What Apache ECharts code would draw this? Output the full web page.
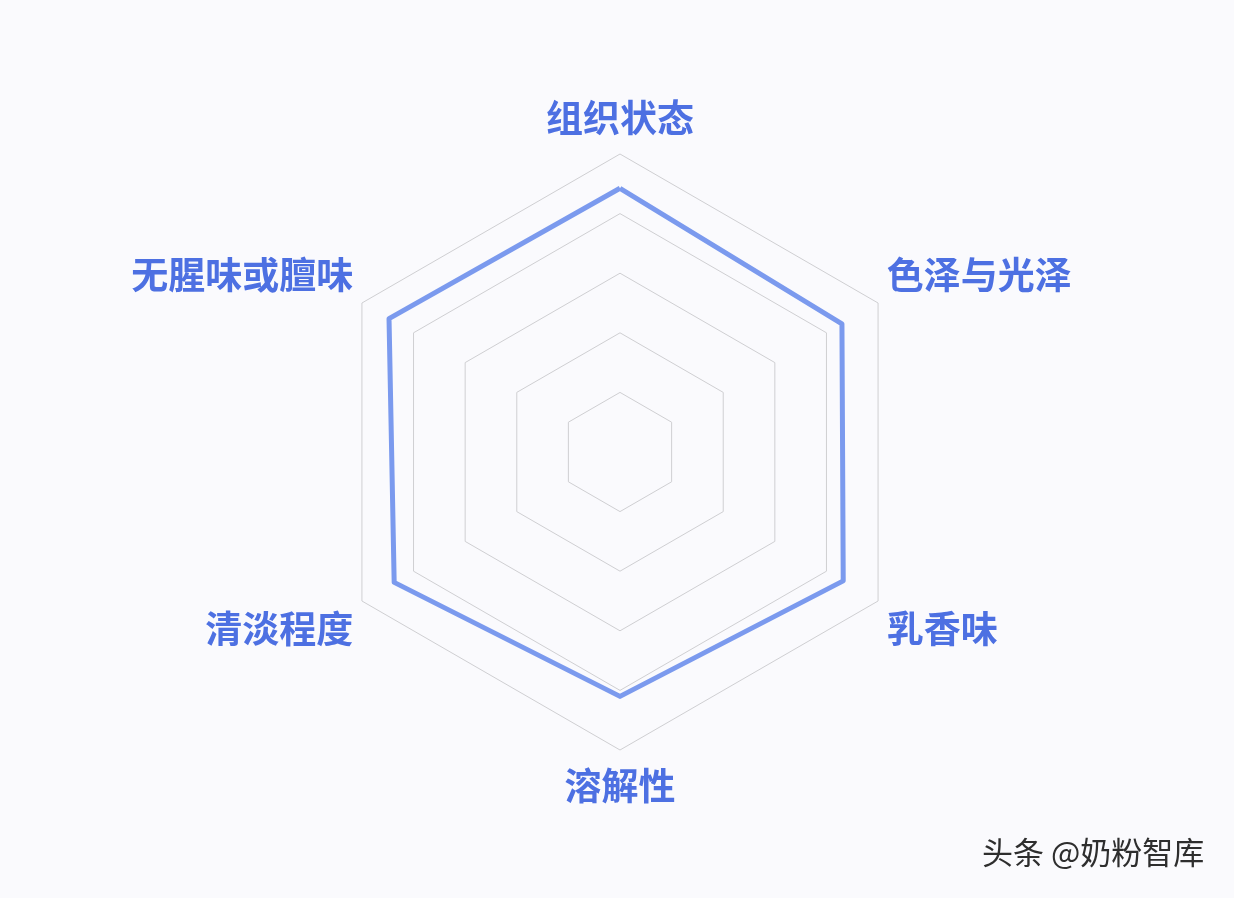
<!DOCTYPE html>
<html>
<head>
<meta charset="utf-8">
<script src="https://cdn.jsdelivr.net/npm/echarts@6/dist/echarts.min.js"></script>
<style>
html,body{margin:0;padding:0;background:#fafafd;}
#c{width:1234px;height:898px;}
</style>
</head>
<body>
<div id="c"></div>
<script>
// Indicators listed counterclockwise from the top (ECharts radar order)
const indicatorNames = ['组织状态', '无腥味或膻味', '清淡程度', '溶解性', '乳香味', '色泽与光泽'];
const indicatorMax = [100, 100, 100, 100, 100, 100];
const scores = [88.5, 89.5, 87.5, 82, 86.5, 86];
const watermark = '头条 @奶粉智库';

// label placement (which side of the polygon the name sits on)
const labelSide = ['top', 'upper', 'lower', 'bottom', 'lower', 'upper'];

const chart = echarts.init(document.getElementById('c'));
chart.setOption({
  backgroundColor: '#fafafd',
  radar: {
    center: [620, 452],
    radius: 298,
    startAngle: 90,
    splitNumber: 5,
    shape: 'polygon',
    nameGap: 10,
    indicator: indicatorNames.map((n, i) => ({ name: n, max: indicatorMax[i], min: 0 })),
    axisName: {
      formatter: function (name) {
        const side = labelSide[indicatorNames.indexOf(name)];
        if (side === 'top') return '{n|' + name + '}\n{g6| }';
        if (side === 'bottom') return '{g6| }\n{n|' + name + '}';
        if (side === 'upper') return '{n|' + name + '}\n{g46| }';
        return '{g46| }\n{n|' + name + '}';
      },
      rich: {
        n: {
          color: '#4d70e2',
          fontSize: 37,
          lineHeight: 40,
          fontWeight: 'bold',
          fontFamily: 'Noto Sans CJK SC'
        },
        g6: { fontSize: 1, lineHeight: 6 },
        g46: { fontSize: 1, lineHeight: 46 }
      }
    },
    axisLine: { show: false },
    axisTick: { show: false },
    axisLabel: { show: false },
    splitArea: { show: false },
    splitLine: { lineStyle: { color: '#cfcfd2', width: 1 } }
  },
  series: [{
    type: 'radar',
    symbol: 'none',
    silent: true,
    lineStyle: { color: '#7b9aee', width: 5 },
    areaStyle: { opacity: 0 },
    data: [{ value: scores }]
  }],
  graphic: [{
    type: 'text',
    left: 982,
    top: 837,
    style: {
      text: watermark,
      fill: '#2e2e2e',
      font: '31px "Noto Sans CJK SC"',
      shadowColor: '#ffffff',
      shadowBlur: 2,
      shadowOffsetX: 1,
      shadowOffsetY: 1
    }
  }]
});
</script>
</body>
</html>
